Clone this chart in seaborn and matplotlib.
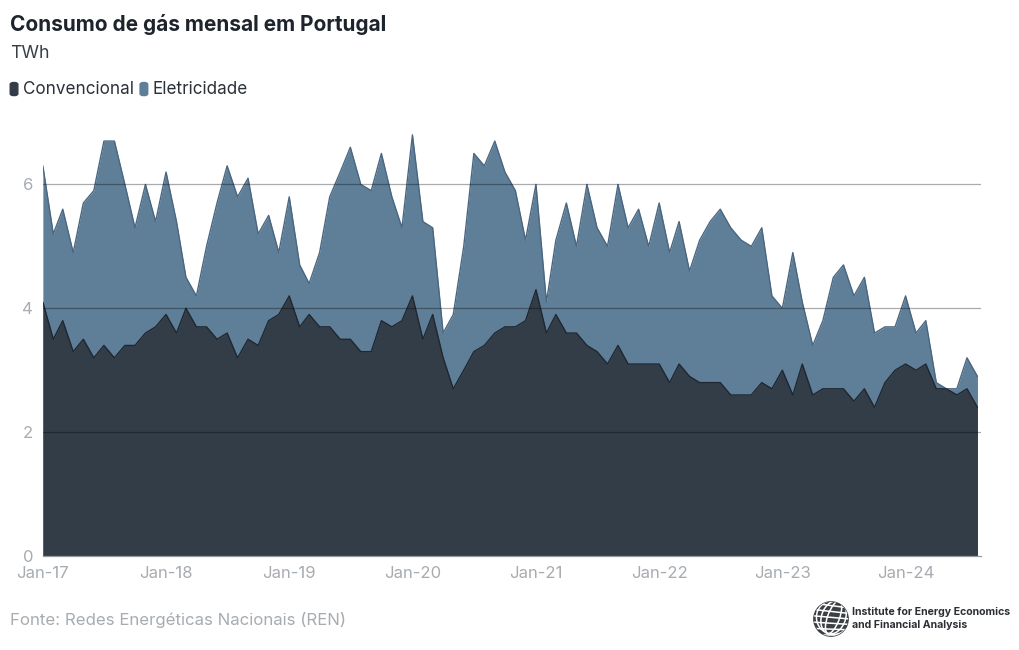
import pandas as pd
import numpy as np
import matplotlib.pyplot as plt
import matplotlib.dates as mdates
import seaborn as sns
from matplotlib.patches import Circle, Ellipse, FancyBboxPatch

sns.set_style("white")
plt.rcParams['font.family'] = ['Inter', 'DejaVu Sans']

# monthly gas consumption, TWh (Jan-2017 .. Aug-2024)
convencional = [
    4.1, 3.5, 3.8, 3.3, 3.5, 3.2, 3.4, 3.2, 3.4, 3.4, 3.6, 3.7,
    3.9, 3.6, 4.0, 3.7, 3.7, 3.5, 3.6, 3.2, 3.5, 3.4, 3.8, 3.9,
    4.2, 3.7, 3.9, 3.7, 3.7, 3.5, 3.5, 3.3, 3.3, 3.8, 3.7, 3.8,
    4.2, 3.5, 3.9, 3.2, 2.7, 3.0, 3.3, 3.4, 3.6, 3.7, 3.7, 3.8,
    4.3, 3.6, 3.9, 3.6, 3.6, 3.4, 3.3, 3.1, 3.4, 3.1, 3.1, 3.1,
    3.1, 2.8, 3.1, 2.9, 2.8, 2.8, 2.8, 2.6, 2.6, 2.6, 2.8, 2.7,
    3.0, 2.6, 3.1, 2.6, 2.7, 2.7, 2.7, 2.5, 2.7, 2.4, 2.8, 3.0,
    3.1, 3.0, 3.1, 2.7, 2.7, 2.6, 2.7, 2.4,
]
eletricidade = [
    2.2, 1.7, 1.8, 1.6, 2.2, 2.7, 3.3, 3.5, 2.6, 1.9, 2.4, 1.7,
    2.3, 1.8, 0.5, 0.5, 1.3, 2.2, 2.7, 2.6, 2.6, 1.8, 1.7, 1.0,
    1.6, 1.0, 0.5, 1.2, 2.1, 2.7, 3.1, 2.7, 2.6, 2.7, 2.1, 1.5,
    2.6, 1.9, 1.4, 0.4, 1.2, 2.0, 3.2, 2.9, 3.1, 2.5, 2.2, 1.3,
    1.7, 0.5, 1.2, 2.1, 1.4, 2.6, 2.0, 1.9, 2.6, 2.2, 2.5, 1.9,
    2.6, 2.1, 2.3, 1.7, 2.3, 2.6, 2.8, 2.7, 2.5, 2.4, 2.5, 1.5,
    1.0, 2.3, 1.0, 0.8, 1.1, 1.8, 2.0, 1.7, 1.8, 1.2, 0.9, 0.7,
    1.1, 0.6, 0.7, 0.1, 0.0, 0.1, 0.5, 0.5,
]
series_names = ['Convencional', 'Eletricidade']
colors = ['#333d48', '#5f7f98']
edge_colors = ['#1f2730', '#4a6680']

dates = pd.date_range('2017-01-01', periods=len(convencional), freq='MS')
df = pd.DataFrame({'date': dates, 'Convencional': convencional,
                   'Eletricidade': eletricidade})
df['total'] = df['Convencional'] + df['Eletricidade']

fig = plt.figure(figsize=(10.2, 6.5), dpi=100)
ax = fig.add_axes([0.042, 0.1446, 0.9196, 0.686])

ax.fill_between(df['date'], 0, df['total'], color=colors[1], lw=0, zorder=2)
ax.fill_between(df['date'], 0, df['Convencional'], color=colors[0], lw=0, zorder=3)
sns.lineplot(data=df, x='date', y='total', ax=ax, color=edge_colors[1], lw=1, zorder=4)
sns.lineplot(data=df, x='date', y='Convencional', ax=ax, color=edge_colors[0], lw=1, zorder=4)

ax.set_ylim(0, 7.2)
ax.set_xlim(dates[0], dates[-1] + pd.Timedelta(days=10))
ax.set_yticks([0, 2, 4, 6])
for v in [2, 4, 6]:
    ax.axhline(v, color='black', alpha=0.33, lw=0.9, zorder=5)
ax.xaxis.set_major_locator(mdates.YearLocator())
ax.xaxis.set_major_formatter(mdates.DateFormatter('%b-%y'))
ax.tick_params(axis='both', colors='#9aa0a6', labelsize=12, length=5, width=0.9, pad=2)
ax.tick_params(axis='both', labelcolor='#a7acb1')
ax.set_xlabel('')
ax.set_ylabel('')
for s in ['top', 'right', 'left']:
    ax.spines[s].set_visible(False)
ax.spines['bottom'].set_color('#9a9a9a')
ax.spines['bottom'].set_linewidth(0.9)
ax.spines['bottom'].set_zorder(6)

# titles
fig.text(0.010, 0.963, 'Consumo de gás mensal em Portugal', fontsize=15,
         fontweight='bold', color='#1d242c', va='center')
fig.text(0.010, 0.918, 'TWh', fontsize=12.8, color='#3a3f45', va='center')

# legend
x = 0.010
for name, c in zip(series_names, colors):
    fig.patches.append(FancyBboxPatch((x, 0.853), 0.0075, 0.020,
                                      boxstyle='round,pad=0,rounding_size=0.003',
                                      transform=fig.transFigure, color=c))
    t = fig.text(x + 0.0125, 0.863, name, fontsize=12.3, color='#2b3138', va='center')
    fig.canvas.draw()
    bb = t.get_window_extent().transformed(fig.transFigure.inverted())
    x = bb.x1 + 0.006

# source
fig.text(0.010, 0.046, 'Fonte: Redes Energéticas Nacionais (REN)', fontsize=12.1,
         color='#a7acb1', va='center')

# logo: small globe + name
lax = fig.add_axes([813 / 1020, 13 / 650, 36 / 1020, 36 / 650])
lax.set_xlim(-1.05, 1.05)
lax.set_ylim(-1.05, 1.05)
lax.set_aspect('equal')
lax.axis('off')
globe = Circle((0, 0), 1, color='#3b3f44')
lax.add_patch(globe)
for w in [0.35, 0.7, 1.0]:
    e = Ellipse((0.15, 0.1), 2 * w, 2.0, angle=-20, fill=False, ec='white', lw=1.1)
    lax.add_patch(e)
    e.set_clip_path(globe)
for yy in np.linspace(-0.8, 0.8, 6):
    ln, = lax.plot([-1, 1], [yy + 0.15 * yy, yy - 0.15], color='white', lw=1.1)
    ln.set_clip_path(globe)
fig.text(0.835, 0.059, 'Institute for Energy Economics', fontsize=7.6,
         fontweight='bold', color='#2b2f34', va='center')
fig.text(0.835, 0.039, 'and Financial Analysis', fontsize=7.6,
         fontweight='bold', color='#2b2f34', va='center')

fig.savefig('out.png', dpi=100)
